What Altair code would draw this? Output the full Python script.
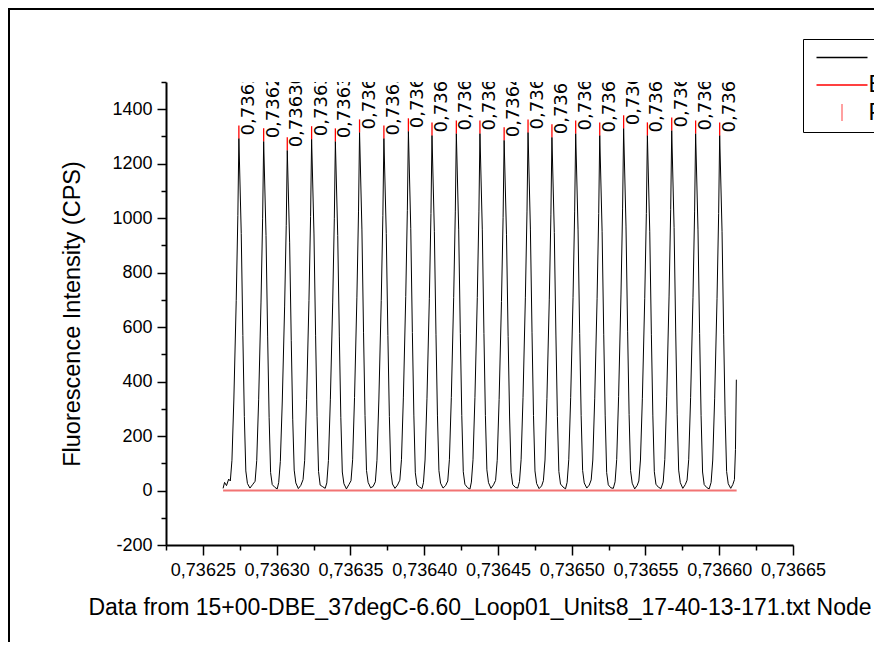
import altair as alt
import pandas as pd

# ---------------- data ----------------
X0 = 0.73625          # x offsets below are in units of 1e-7 from X0
XSTEP = 1e-7

peak_dx = [244, 412, 572, 737, 898, 1062, 1227, 1393, 1553, 1718, 1878,
           2042, 2204, 2366, 2527, 2690, 2852, 3013, 3178, 3340, 3503]
peak_val = [1293, 1282, 1249, 1290, 1282, 1315, 1293, 1319, 1304, 1311, 1311,
            1286, 1315, 1297, 1311, 1304, 1330, 1304, 1322, 1311, 1304]

trace_dx = [
    [137, 147, 160, 175, 186, 197, 210, 226, 237],
    [244, 260, 271, 281, 291, 302, 319, 336, 354, 365, 378, 394, 405],
    [412, 428, 439, 449, 459, 470, 487, 504, 514, 525, 538, 554, 565],
    [572, 588, 599, 609, 619, 630, 647, 664, 679, 690, 703, 719, 730],
    [737, 753, 764, 774, 784, 795, 812, 829, 840, 851, 864, 880, 891],
    [898, 914, 925, 935, 945, 956, 973, 990, 1004, 1015, 1028, 1044, 1055],
    [1062, 1078, 1089, 1099, 1109, 1120, 1137, 1154, 1169, 1180, 1193, 1209, 1220],
    [1227, 1243, 1254, 1264, 1274, 1285, 1302, 1319, 1335, 1346, 1359, 1375, 1386],
    [1393, 1409, 1420, 1430, 1440, 1451, 1468, 1485, 1495, 1506, 1519, 1535, 1546],
    [1553, 1569, 1580, 1590, 1600, 1611, 1628, 1645, 1660, 1671, 1684, 1700, 1711],
    [1718, 1734, 1745, 1755, 1765, 1776, 1793, 1810, 1820, 1831, 1844, 1860, 1871],
    [1878, 1894, 1905, 1915, 1925, 1936, 1953, 1970, 1984, 1995, 2008, 2024, 2035],
    [2042, 2058, 2069, 2079, 2089, 2100, 2117, 2134, 2146, 2157, 2170, 2186, 2197],
    [2204, 2220, 2231, 2241, 2251, 2262, 2279, 2296, 2308, 2319, 2332, 2348, 2359],
    [2366, 2382, 2393, 2403, 2413, 2424, 2441, 2458, 2469, 2480, 2493, 2509, 2520],
    [2527, 2543, 2554, 2564, 2574, 2585, 2602, 2619, 2632, 2643, 2656, 2672, 2683],
    [2690, 2706, 2717, 2727, 2737, 2748, 2765, 2782, 2794, 2805, 2818, 2834, 2845],
    [2852, 2868, 2879, 2889, 2899, 2910, 2927, 2944, 2955, 2966, 2979, 2995, 3006],
    [3013, 3029, 3040, 3050, 3060, 3071, 3088, 3105, 3120, 3131, 3144, 3160, 3171],
    [3178, 3194, 3205, 3215, 3225, 3236, 3253, 3270, 3282, 3293, 3306, 3322, 3333],
    [3340, 3356, 3367, 3377, 3387, 3398, 3415, 3432, 3445, 3456, 3469, 3485, 3496],
    [3503, 3519, 3530, 3540, 3550, 3561, 3578, 3592, 3603, 3610, 3616],
]
trace_val = [
    [8, 30, 18, 42, 35, 111, 336, 698, 1009],
    [1293, 944, 569, 272, 72, 26, 9, 21, 34, 110, 333, 692, 1000],
    [1282, 936, 564, 269, 66, 22, 12, 6, 30, 107, 325, 674, 974],
    [1249, 912, 550, 262, 75, 28, 7, 19, 40, 111, 335, 697, 1006],
    [1290, 942, 568, 271, 70, 20, 14, 8, 28, 110, 333, 692, 1000],
    [1282, 936, 564, 269, 68, 25, 6, 22, 36, 113, 342, 710, 1026],
    [1315, 960, 579, 276, 74, 30, 10, 15, 32, 111, 336, 698, 1009],
    [1293, 944, 569, 272, 71, 24, 8, 20, 38, 113, 343, 712, 1029],
    [1319, 963, 580, 277, 65, 21, 13, 7, 29, 112, 339, 704, 1017],
    [1304, 952, 574, 274, 73, 27, 9, 18, 35, 113, 341, 708, 1023],
    [1311, 957, 577, 275, 69, 23, 11, 5, 31, 113, 341, 708, 1023],
    [1311, 957, 577, 275, 76, 29, 8, 21, 37, 111, 334, 694, 1003],
    [1286, 939, 566, 270, 67, 22, 12, 9, 33, 113, 342, 710, 1026],
    [1315, 960, 579, 276, 72, 26, 7, 17, 36, 112, 337, 700, 1012],
    [1297, 947, 571, 272, 70, 24, 13, 6, 30, 113, 341, 708, 1023],
    [1311, 957, 577, 275, 74, 28, 9, 20, 39, 112, 339, 704, 1017],
    [1304, 952, 574, 274, 66, 21, 10, 8, 32, 114, 346, 718, 1037],
    [1330, 971, 585, 279, 73, 27, 6, 19, 35, 112, 339, 704, 1017],
    [1304, 952, 574, 274, 69, 23, 12, 7, 31, 114, 344, 714, 1031],
    [1322, 965, 582, 278, 75, 29, 8, 22, 38, 113, 341, 708, 1023],
    [1311, 957, 577, 275, 68, 22, 11, 6, 30, 112, 339, 704, 1017],
    [1304, 952, 574, 274, 70, 25, 8, 22, 40, 150, 407],
]

baseline_dx = [137, 3618]
baseline_val = [0, 0]

legend_series = ["Trace", "Baseline", "Peaks"]
legend_colors = ["#000000", "#ff0000", "#ff8080"]
legend_shapes = ["M-2.55,0L2.55,0", "M-2.55,0L2.55,0", "M0,-0.85L0,0.85"]

x_tick_values = [0.736225, 0.73625, 0.736275, 0.7363, 0.736325, 0.73635,
                 0.736375, 0.7364, 0.736425, 0.73645, 0.736475, 0.7365,
                 0.736525, 0.73655, 0.736575, 0.7366, 0.736625, 0.73665]
y_tick_values = [-200, -100, 0, 100, 200, 300, 400, 500, 600, 700, 800,
                 900, 1000, 1100, 1200, 1300, 1400, 1500]

x_title = "Data from 15+00-DBE_37degC-6.60_Loop01_Units8_17-40-13-171.txt Node"
y_title = "Fluorescence Intensity (CPS)"

# ---------------- tables ----------------
tx = [d for seg in trace_dx for d in seg]
tv = [v for seg in trace_val for v in seg]
trace_df = pd.DataFrame({"x": [X0 + d * XSTEP for d in tx], "v": tv})
base_df = pd.DataFrame({"x": [X0 + d * XSTEP for d in baseline_dx], "v": baseline_val})
peak_df = pd.DataFrame({
    "x": [X0 + d * XSTEP for d in peak_dx],
    "v": peak_val,
})
peak_df["label"] = [f"{x:.6f}".replace(".", ",") for x in peak_df["x"]]
legend_df = pd.DataFrame({"series": legend_series, "x": [X0] * 3, "v": [99999] * 3})

FONT = "Arial, Liberation Sans"
W, H = 627, 463

xscale = alt.Scale(domain=[0.736225, 0.73665], nice=False, zero=False)
yscale = alt.Scale(domain=[-200, 1500], nice=False, zero=False)

x_major = "round(datum.value*1e6) % 50 == 0"
y_major = "datum.value % 200 == 0"

xaxis = alt.Axis(
    values=x_tick_values,
    labelExpr=f"{x_major} ? replace(format(datum.value, '.5f'), '.', ',') : ''",
    tickSize={"condition": {"test": x_major, "value": 10}, "value": 5},
    tickWidth=1.5, tickColor="black", domainColor="black", domainWidth=2,
    labelFontSize=18, labelFont=FONT, labelColor="black", labelPadding=6,
    labelOverlap=False, labelFlush=False, grid=False,
    title=x_title, titleFontSize=23, titleFont=FONT, titleFontWeight="normal",
    titleColor="black", titlePadding=17,
)
yaxis = alt.Axis(
    values=y_tick_values,
    labelExpr=f"{y_major} ? '' + datum.value : ''",
    tickSize={"condition": {"test": y_major, "value": 9}, "value": 5},
    tickWidth=1.5, tickColor="black", domainColor="black", domainWidth=2,
    labelFontSize=18, labelFont=FONT, labelColor="black", labelPadding=5,
    labelOverlap=False, grid=False,
    title=y_title, titleFontSize=23.5, titleFont=FONT, titleFontWeight="normal",
    titleColor="black", titlePadding=27,
)


def X():
    return alt.X("x:Q", scale=xscale, axis=xaxis, title=x_title)


def Y():
    return alt.Y("v:Q", scale=yscale, axis=yaxis, title=y_title)


trace = alt.Chart(trace_df).mark_line(color="black", strokeWidth=1).encode(x=X(), y=Y())

baseline = alt.Chart(base_df).mark_line(color="#f27373", strokeWidth=2).encode(x=X(), y=Y())

peak_rules = alt.Chart(peak_df).mark_rule(color="#ff0000", strokeWidth=1.3, y2Offset=-13).encode(
    x=X(), y=Y(), y2="v:Q",
)

peak_labels = alt.Chart(peak_df).mark_text(
    angle=270, align="left", baseline="top", dx=3, dy=1,
    fontSize=18, font="DejaVu Sans", color="black", clip=True,
).encode(x=X(), y=Y(), text="label:N")

legend_kw = dict(
    title=None, orient="none", legendX=637, legendY=-43, padding=7,
    strokeColor="black", symbolOffset=20.5, labelOffset=15, rowPadding=3.5,
    labelFontSize=23, labelFont=FONT, labelColor="black", labelLimit=400,
    symbolSize=400, symbolStrokeWidth=1.5,
    labelExpr="datum.label == 'Trace' ? '' : datum.label",
)
legend_layer = alt.Chart(legend_df).mark_point(
    filled=False, opacity=1, strokeWidth=1.5, size=400, clip=True
).encode(
    x=X(), y=Y(),
    color=alt.Color("series:N", scale=alt.Scale(domain=legend_series, range=legend_colors),
                    legend=alt.Legend(**legend_kw)),
    shape=alt.Shape("series:N", scale=alt.Scale(domain=legend_series, range=legend_shapes),
                    legend=alt.Legend(**legend_kw)),
)

PAD = {"left": 158, "top": 74, "right": 81, "bottom": 97}
frame_top = alt.Chart(alt.Data(values=[{}])).mark_rule(color="black", strokeWidth=2).encode(
    x=alt.value(-PAD["left"]), x2=alt.value(W + PAD["right"]), y=alt.value(-PAD["top"] + 1),
)
frame_left = alt.Chart(alt.Data(values=[{}])).mark_rule(color="black", strokeWidth=2).encode(
    x=alt.value(-PAD["left"] + 1), y=alt.value(-PAD["top"]), y2=alt.value(H + PAD["bottom"]),
)

chart = alt.layer(
    trace, baseline, peak_rules, peak_labels, legend_layer, frame_top, frame_left
).properties(
    width=W, height=H,
    autosize=alt.AutoSizeParams(type="none"),
    padding=PAD,
    background="white",
).configure(font=FONT).configure_view(strokeWidth=0)

chart.save("out.html", embed_options={"renderer": "svg", "actions": False})
